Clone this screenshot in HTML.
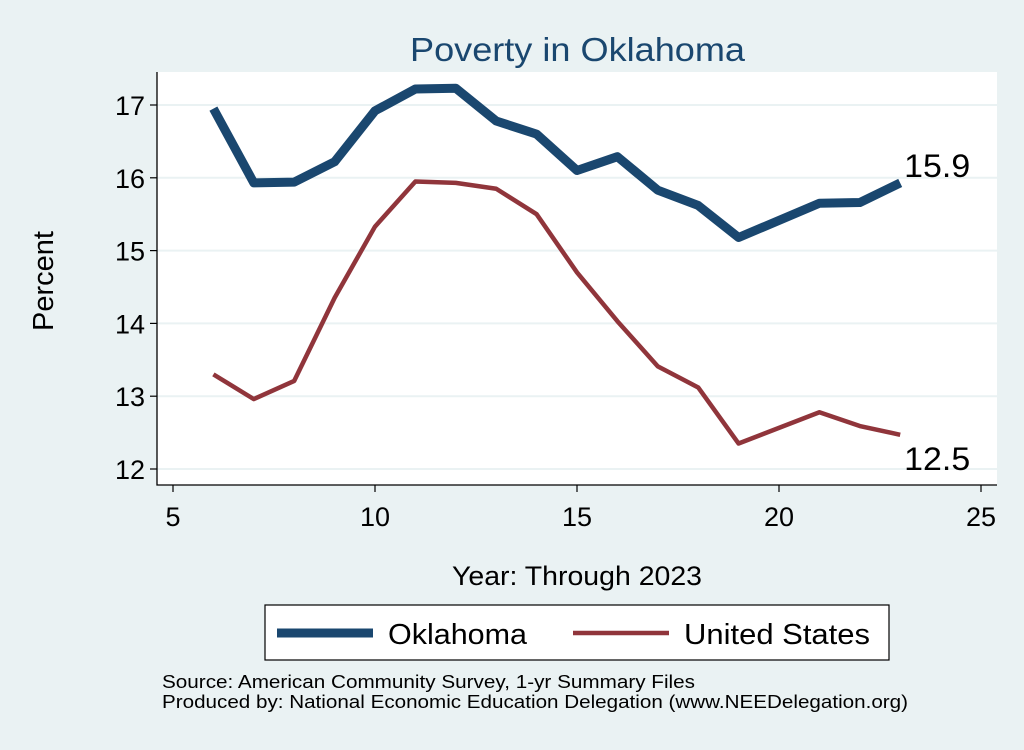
<!DOCTYPE html>
<html><head><meta charset="utf-8"><style>
body{margin:0;background:#eaf2f3;font-family:"Liberation Sans",sans-serif;}
svg text{font-family:"Liberation Sans",sans-serif;}
</style></head><body>
<svg id="chart" width="1024" height="745" xmlns="http://www.w3.org/2000/svg">
<rect width="1024" height="745" fill="#eaf2f3"/>
<text x="410" y="61" font-size="33" fill="#1a476f" textLength="335" lengthAdjust="spacingAndGlyphs">Poverty in Oklahoma</text>
<rect x="157" y="72" width="840" height="413" fill="#fff"/>
<g id="grid"></g><g id="series"></g><g id="axes"></g>
<text transform="translate(53,281) rotate(-90)" font-size="29" text-anchor="middle">Percent</text>
<text x="452" y="585" font-size="27" textLength="250" lengthAdjust="spacingAndGlyphs">Year: Through 2023</text>
<g>
<rect x="265" y="605" width="624" height="55" fill="#fff" stroke="#000" stroke-width="1.2"/>
<line x1="277" y1="633" x2="373" y2="633" stroke="#1a476f" stroke-width="9"/>
<text x="388" y="644" font-size="29" textLength="139" lengthAdjust="spacingAndGlyphs">Oklahoma</text>
<line x1="573" y1="633" x2="669" y2="633" stroke="#90353b" stroke-width="4.5"/>
<text x="684" y="644" font-size="29" textLength="186" lengthAdjust="spacingAndGlyphs">United States</text>
</g>
<text x="162" y="688" font-size="18.5" textLength="533" lengthAdjust="spacingAndGlyphs">Source: American Community Survey, 1-yr Summary Files</text>
<text x="162" y="708" font-size="18.5" textLength="746" lengthAdjust="spacingAndGlyphs">Produced by: National Economic Education Delegation (www.NEEDelegation.org)</text>
</svg>
<script>
const years=[6,7,8,9,10,11,12,13,14,15,16,17,18,19,21,22,23];
const okValues=[16.95,15.93,15.94,16.22,16.92,17.22,17.23,16.78,16.6,16.1,16.29,15.83,15.62,15.18,15.65,15.66,15.93];
const usValues=[13.3,12.96,13.21,14.35,15.33,15.95,15.93,15.85,15.5,14.7,14.03,13.41,13.12,12.35,12.78,12.59,12.47];
const xTicks=[5,10,15,20,25];
const yTicks=[12,13,14,15,16,17];
const NS="http://www.w3.org/2000/svg";
const x=v=>173+(v-5)*40.4;
const y=v=>469-(v-12)*72.8;
function mk(tag,attrs,parent){const e=document.createElementNS(NS,tag);for(const k in attrs)e.setAttribute(k,attrs[k]);document.getElementById(parent).appendChild(e);return e;}
yTicks.forEach(t=>{
 const g=mk('line',{x1:157,x2:997,y1:y(t),y2:y(t),stroke:'#eaf2f3','stroke-width':2},'grid');
 
 
 const tk=mk('line',{x1:150,x2:157,y1:y(t),y2:y(t),stroke:'#000','stroke-width':1.2},'axes');
 
 
 const tx=mk('text',{x:145,y:y(t)+10,'font-size':27,'text-anchor':'end'},'axes');
 tx.textContent=t;
 
 
});
xTicks.forEach(t=>{
 const tk=mk('line',{x1:x(t),x2:x(t),y1:485,y2:492,stroke:'#000','stroke-width':1.2},'axes');
 
 
 const tx=mk('text',{x:x(t),y:526,'font-size':27,'text-anchor':'middle'},'axes');
 tx.textContent=t;
 
 
});
const ax=mk('path',{d:'M157 72 V485 H997',fill:'none',stroke:'#000','stroke-width':1.3},'axes');


const pts=a=>years.map((yr,i)=>x(yr)+','+y(a[i])).join(' ');
const ok=mk('polyline',{points:pts(okValues),fill:'none',stroke:'#1a476f','stroke-width':9,'stroke-linejoin':'round'},'series');


const us=mk('polyline',{points:pts(usValues),fill:'none',stroke:'#90353b','stroke-width':4.5,'stroke-linejoin':'round'},'series');


const n=years.length-1;
const l1=mk('text',{x:x(years[n])+4,y:y(okValues[n])-6,'font-size':32,textLength:66,lengthAdjust:'spacingAndGlyphs'},'series');
l1.textContent=okValues[n].toFixed(1);


const l2=mk('text',{x:x(years[n])+4,y:y(usValues[n])+35,'font-size':32,textLength:66,lengthAdjust:'spacingAndGlyphs'},'series');
l2.textContent=usValues[n].toFixed(1);


</script>
</body></html>
